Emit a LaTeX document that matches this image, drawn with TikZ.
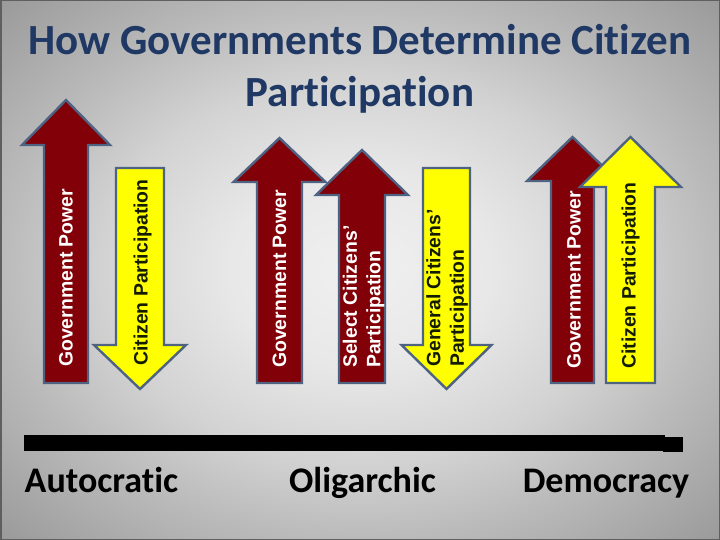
\documentclass[tikz,border=0pt]{standalone}
\usepackage{fontspec}
\setmainfont[Ligatures=NoCommon]{Carlito}
\newfontfamily\arrfont{Liberation Sans}
\definecolor{bgA}{RGB}{240,240,240}
\definecolor{bgB}{RGB}{232,232,232}
\definecolor{bgC}{RGB}{210,210,210}
\definecolor{bgD}{RGB}{186,186,186}
\definecolor{bgE}{RGB}{152,152,152}
\definecolor{frame}{RGB}{95,95,95}
\definecolor{arrred}{RGB}{130,0,8}
\definecolor{arredge}{RGB}{78,98,130}
\definecolor{arryel}{RGB}{255,255,0}
\definecolor{arrtxt}{RGB}{20,28,0}
\definecolor{titleblue}{RGB}{31,56,100}
\pgfdeclareradialshading{bgshade}{\pgfpointorigin}{color(0bp)=(bgA); color(9bp)=(bgB); color(18bp)=(bgC); color(25bp)=(bgD); color(36bp)=(bgE); color(50bp)=(bgE)}
\begin{document}
\begin{tikzpicture}[x=1pt,y=-1pt,
  redarr/.style={fill=arrred, draw=arredge, line width=2.4pt, line join=miter},
  yelarr/.style={fill=arryel, draw=arredge, line width=2.4pt, line join=miter},
  wtxt/.style={rotate=90, anchor=west, inner sep=0pt, text=white, font=\arrfont\bfseries\fontsize{19.4}{23.5}\selectfont, align=left},
  btxt/.style={wtxt, text=arrtxt},
  ttl/.style={anchor=base, inner sep=0pt, text=titleblue, font=\bfseries\fontsize{43}{52}\selectfont},
  lbl/.style={anchor=base, inner sep=0pt, text=black, font=\bfseries\fontsize{36}{40}\selectfont}]
\useasboundingbox (0,0) rectangle (720,540);
\shade[shading=bgshade] (0,0) rectangle (720,540);
\draw[frame, line width=1.5pt] (0.75,0.75) rectangle (719.25,539.25);

% title
\node[ttl] (title1) at (360,55) {How Governments Determine Citizen};
\node[ttl] (title2) at (360,107) {Participation};

% Autocratic arrows
\draw[redarr] (44,383) -- (44,145) -- (22,145) -- (66,100) -- (110,145) -- (88,145) -- (88,383) -- cycle;
\draw[yelarr] (116,168) -- (164,168) -- (164,345) -- (186,345) -- (140,389) -- (94,345) -- (116,345) -- cycle;

% Oligarchic arrows
\draw[redarr] (257,383) -- (257,182) -- (233.5,182) -- (279.5,138) -- (325.5,182) -- (302,182) -- (302,383) -- cycle;
\draw[redarr] (339,383) -- (339,195) -- (316,195) -- (362,150) -- (408,195) -- (385,195) -- (385,383) -- cycle;
\draw[yelarr] (423,168) -- (470,168) -- (470,345) -- (491.5,345) -- (446.5,389) -- (401.5,345) -- (423,345) -- cycle;

% Democracy arrows
\draw[redarr] (551,383) -- (551,181) -- (527,181) -- (572.5,137) -- (618,181) -- (594,181) -- (594,383) -- cycle;
\draw[yelarr] (606,383) -- (606,187) -- (580,187) -- (630.5,137) -- (681,187) -- (655,187) -- (655,383) -- cycle;

% arrow texts
\node[wtxt] (t1) at (66,367) {Government Power};
\node[btxt] (t2) at (142.5,366) {Citizen Participation};
\node[wtxt] (t3) at (279.5,368) {Government Power};
\node[wtxt] (t4) at (363.5,368) {Select Citizens’\\Participation};
\node[btxt] (t5) at (447,367) {General Citizens’\\Participation};
\node[wtxt] (t6) at (574,369) {Government Power};
\node[btxt] (t7) at (630.5,369) {Citizen Participation};

% scale bar
\fill[black] (24,435) rectangle (665,451);
\fill[black] (663,437) rectangle (683,452);

% labels
\node[lbl] (l1) at (101.5,492) {Autocratic};
\node[lbl] (l2) at (362.5,492) {Oligarchic};
\node[lbl] (l3) at (606,492) {Democracy};
\end{tikzpicture}
\end{document}
